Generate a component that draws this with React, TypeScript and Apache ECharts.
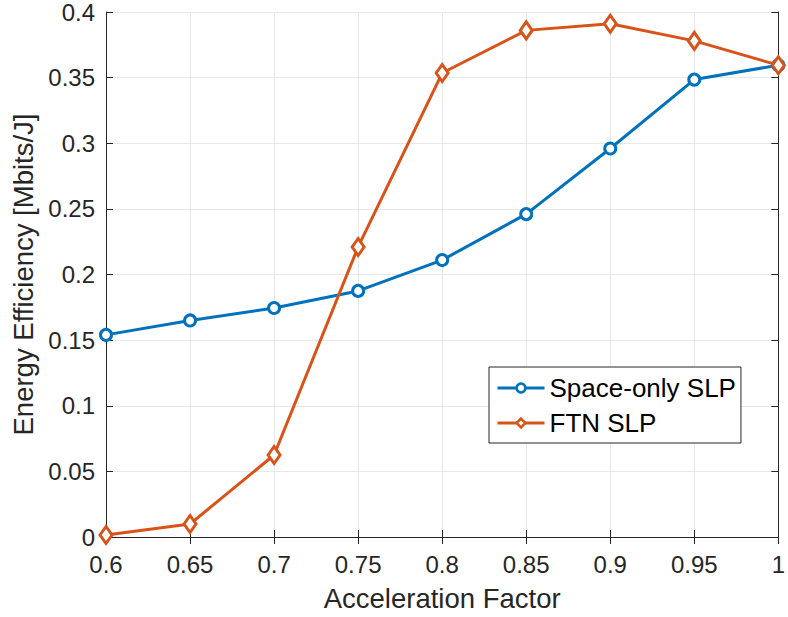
import React, { useEffect, useRef } from "react";
import * as echarts from "echarts";

const xValues = [0.6, 0.65, 0.7, 0.75, 0.8, 0.85, 0.9, 0.95, 1.0];
const spaceOnly = [0.154, 0.165, 0.1745, 0.1875, 0.211, 0.246, 0.296, 0.3485, 0.3595];
const ftn = [0.0015, 0.0099, 0.0625, 0.221, 0.3535, 0.386, 0.391, 0.378, 0.3595];
const seriesNames = ["Space-only SLP", "FTN SLP"];

const fmt = (v: number) => String(+v.toFixed(2));
const FONT = "'Liberation Sans', Arial, Helvetica, sans-serif";
const TXT = "#262626";
const BLUE = "#0072BD";
const ORANGE = "#D95319";

export default function App() {
  const ref = useRef<HTMLDivElement>(null);
  useEffect(() => {
    document.body.style.margin = "0";
    const chart = echarts.init(ref.current!, undefined, { renderer: "svg" });
    const baseX = { type: "value", min: 0.6, max: 1, interval: 0.05 };
    const baseY = { type: "value", min: 0, max: 0.4, interval: 0.05 };
    const tick = { show: true, inside: true, length: 7, lineStyle: { color: TXT, width: 1 } };
    const line = { show: true, lineStyle: { color: TXT, width: 1 } };
    chart.setOption({
      animation: false,
      backgroundColor: "#fff",
      textStyle: { fontFamily: FONT },
      grid: { left: 106, top: 12, right: 5, bottom: 80, containLabel: false },
      legend: {
        left: 489,
        top: 367,
        orient: "vertical",
        itemWidth: 47,
        itemHeight: 11,
        itemGap: 9,
        padding: [8, 5, 7, 7],
        backgroundColor: "#fff",
        borderColor: TXT,
        borderWidth: 1,
        borderRadius: 0,
        lineStyle: { width: 3 },
        itemStyle: { borderWidth: 2.5 },
        textStyle: { fontSize: 26, color: "#000", fontFamily: FONT },
        data: seriesNames,
      },
      xAxis: [
        {
          ...baseX,
          position: "bottom",
          axisLine: line,
          axisTick: tick,
          axisLabel: { formatter: fmt, fontSize: 24, color: TXT, margin: 15, fontFamily: FONT },
          splitLine: { show: true, lineStyle: { color: "#e8e8e8", width: 1 } },
          name: "Acceleration Factor",
          nameLocation: "middle",
          nameGap: 47,
          nameTextStyle: { fontSize: 27.5, color: TXT, fontFamily: FONT },
        },
        {
          ...baseX,
          position: "top",
          axisLine: line,
          axisTick: tick,
          axisLabel: { show: false },
          splitLine: { show: false },
        },
      ],
      yAxis: [
        {
          ...baseY,
          position: "left",
          axisLine: line,
          axisTick: tick,
          axisLabel: { formatter: fmt, fontSize: 24, color: TXT, margin: 11, fontFamily: FONT },
          splitLine: { show: true, lineStyle: { color: "#e8e8e8", width: 1 } },
          name: "Energy Efficiency [Mbits/J]",
          nameLocation: "middle",
          nameGap: 66,
          nameTextStyle: { fontSize: 27.5, color: TXT, fontFamily: FONT },
        },
        {
          ...baseY,
          position: "right",
          axisLine: line,
          axisTick: tick,
          axisLabel: { show: false },
          splitLine: { show: false },
        },
      ],
      series: [
        {
          name: seriesNames[0],
          type: "line",
          data: xValues.map((x, i) => [x, spaceOnly[i]]),
          symbol: "circle",
          symbolSize: 11,
          showAllSymbol: true,
          lineStyle: { color: BLUE, width: 3 },
          itemStyle: { color: "#fff", borderColor: BLUE, borderWidth: 3 },
          z: 3,
        },
        {
          name: seriesNames[1],
          type: "line",
          data: xValues.map((x, i) => [x, ftn[i]]),
          symbol: "diamond",
          symbolSize: [12, 17],
          showAllSymbol: true,
          lineStyle: { color: ORANGE, width: 3 },
          itemStyle: { color: "#fff", borderColor: ORANGE, borderWidth: 3 },
          z: 4,
        },
      ],
    });
    return () => chart.dispose();
  }, []);
  return <div ref={ref} style={{ width: 788, height: 617 }} />;
}
